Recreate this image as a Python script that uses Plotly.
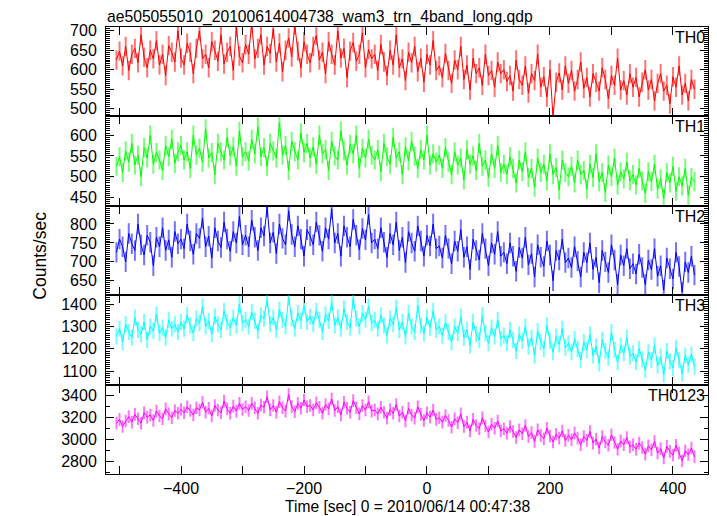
import plotly.graph_objects as go
from plotly.subplots import make_subplots

# time bins (sec), 5 s spacing
t_start = -505
t_step = 5

th0 = [625, 648, 610, 660, 598, 640, 655, 618, 690, 632, 605, 650, 628, 675, 612, 640, 585, 662, 645, 620, 700,
       630, 612, 668, 645, 590, 655, 700, 628, 640, 605, 672, 650, 622, 690, 615, 645, 660, 598, 710, 635, 618,
       665, 640, 720, 628, 655, 690, 612, 660, 642, 705, 620, 668, 595, 650, 682, 633, 715, 648, 605, 672, 640,
       618, 660, 688, 625, 645, 590, 672, 640, 612, 700, 630, 655, 580, 648, 670, 622, 640, 695, 605, 652, 628,
       640, 598, 665, 620, 585, 650, 612, 690, 605, 628, 572, 645, 618, 660, 595, 630, 568, 640, 612, 675, 598,
       610, 580, 642, 598, 565, 625, 600, 660, 575, 612, 548, 630, 590, 605, 560, 640, 585, 598, 555, 620, 590,
       600, 570, 585, 545, 625, 575, 560, 610, 540, 590, 572, 640, 555, 582, 530, 600, 478, 568, 592, 548, 610,
       565, 598, 545, 575, 620, 552, 580, 530, 590, 568, 545, 605, 575, 525, 585, 560, 630, 548, 572, 535, 590,
       555, 580, 530, 568, 600, 548, 575, 520, 565, 590, 545, 560, 512, 582, 555, 610, 535, 565, 520, 575, 550]

th1 = [525, 548, 510, 562, 535, 580, 528, 552, 500, 570, 545, 600, 530, 558, 540, 515, 575, 548, 590, 532, 560,
       575, 540, 560, 520, 600, 552, 568, 535, 615, 545, 558, 505, 580, 560, 540, 595, 550, 572, 525, 610, 548,
       560, 538, 590, 555, 620, 548, 570, 525, 580, 562, 545, 630, 552, 575, 515, 585, 560, 540, 605, 558, 580,
       545, 572, 530, 600, 555, 565, 515, 585, 550, 540, 610, 562, 528, 578, 555, 600, 520, 568, 545, 590, 552,
       540, 565, 512, 580, 548, 530, 595, 545, 560, 505, 572, 538, 585, 550, 520, 565, 540, 600, 528, 555, 535,
       552, 520, 570, 535, 505, 560, 528, 545, 492, 565, 530, 550, 515, 580, 525, 540, 498, 555, 520, 575, 510,
       530, 505, 548, 520, 485, 540, 512, 560, 498, 520, 475, 545, 510, 530, 490, 555, 505, 522, 468, 540, 510,
       500, 525, 485, 540, 505, 515, 470, 530, 498, 555, 488, 510, 462, 528, 500, 545, 480, 512, 495, 535, 490,
       505, 480, 520, 490, 460, 512, 488, 530, 470, 495, 448, 510, 485, 525, 465, 500, 478, 520, 455, 498, 488]

th2 = [725, 760, 740, 700, 775, 748, 730, 800, 745, 718, 770, 752, 690, 765, 740, 790, 730, 758, 712, 780, 748,
       760, 735, 800, 755, 720, 775, 762, 815, 740, 768, 710, 790, 755, 738, 805, 760, 728, 780, 750, 820, 745,
       770, 740, 810, 765, 730, 790, 768, 845, 750, 778, 722, 800, 762, 745, 835, 772, 740, 795, 760, 715, 785,
       768, 745, 805, 770, 728, 790, 760, 840, 750, 775, 715, 795, 765, 740, 812, 770, 732, 788, 758, 825, 750,
       760, 735, 790, 752, 712, 775, 745, 805, 730, 765, 698, 780, 750, 728, 795, 755, 715, 770, 742, 800, 735,
       742, 710, 770, 735, 695, 755, 728, 785, 712, 740, 680, 760, 730, 705, 775, 735, 690, 750, 720, 780, 715,
       725, 695, 750, 715, 675, 738, 710, 765, 692, 722, 660, 745, 712, 688, 755, 718, 650, 730, 705, 760, 698,
       710, 685, 740, 702, 660, 725, 698, 750, 680, 712, 645, 730, 700, 672, 745, 705, 640, 718, 690, 735, 682,
       695, 668, 720, 685, 640, 705, 680, 735, 662, 690, 625, 710, 682, 655, 725, 688, 620, 700, 672, 715, 665]

th3 = [1255, 1290, 1230, 1310, 1275, 1250, 1340, 1285, 1265, 1320, 1240, 1300, 1280, 1355, 1270, 1295, 1250, 1330, 1290, 1310, 1275,
       1320, 1290, 1350, 1305, 1270, 1335, 1315, 1390, 1300, 1325, 1265, 1345, 1310, 1285, 1370, 1320, 1295, 1340, 1305, 1400, 1315,
       1330, 1300, 1365, 1325, 1280, 1350, 1335, 1420, 1310, 1340, 1285, 1375, 1330, 1300, 1430, 1335, 1290, 1360, 1325, 1395, 1320,
       1345, 1310, 1370, 1330, 1275, 1355, 1325, 1410, 1305, 1340, 1290, 1380, 1320, 1295, 1425, 1335, 1300, 1360, 1330, 1390, 1315,
       1330, 1290, 1350, 1305, 1260, 1335, 1310, 1385, 1285, 1320, 1255, 1360, 1300, 1275, 1395, 1305, 1270, 1340, 1295, 1370, 1285,
       1300, 1260, 1320, 1275, 1230, 1300, 1270, 1345, 1250, 1285, 1215, 1320, 1265, 1240, 1350, 1270, 1225, 1295, 1255, 1330, 1245,
       1260, 1225, 1285, 1240, 1190, 1265, 1235, 1300, 1210, 1250, 1170, 1280, 1230, 1200, 1305, 1235, 1185, 1255, 1220, 1290, 1205,
       1225, 1185, 1245, 1200, 1150, 1230, 1195, 1265, 1170, 1210, 1135, 1240, 1190, 1160, 1275, 1195, 1140, 1215, 1180, 1250, 1165,
       1180, 1140, 1200, 1155, 1105, 1185, 1150, 1215, 1125, 1165, 1085, 1190, 1145, 1115, 1205, 1150, 1090, 1170, 1130, 1175, 1120]

th0123 = [3150, 3185, 3120, 3170, 3210, 3160, 3230, 3190, 3150, 3245, 3205, 3225, 3175, 3260, 3215, 3190, 3280, 3235, 3200, 3265, 3240,
          3275, 3245, 3300, 3265, 3225, 3290, 3270, 3340, 3250, 3285, 3215, 3310, 3270, 3245, 3350, 3280, 3240, 3305, 3260, 3330, 3275,
          3300, 3265, 3330, 3290, 3240, 3315, 3295, 3390, 3270, 3310, 3250, 3345, 3290, 3260, 3410, 3300, 3255, 3330, 3285, 3360, 3300,
          3310, 3270, 3335, 3295, 3240, 3320, 3280, 3370, 3265, 3300, 3225, 3340, 3285, 3250, 3355, 3290, 3235, 3310, 3270, 3345, 3260,
          3270, 3235, 3295, 3250, 3195, 3275, 3240, 3320, 3215, 3250, 3170, 3285, 3225, 3195, 3300, 3230, 3175, 3245, 3205, 3270, 3185,
          3200, 3160, 3220, 3175, 3115, 3190, 3155, 3235, 3120, 3160, 3080, 3185, 3130, 3100, 3200, 3125, 3070, 3140, 3105, 3170, 3080,
          3100, 3060, 3120, 3075, 3020, 3090, 3055, 3130, 3030, 3065, 2985, 3090, 3040, 3010, 3105, 3035, 2980, 3050, 3015, 3080, 2995,
          3040, 3000, 3060, 3015, 2955, 3030, 2995, 3075, 2970, 3005, 2925, 3030, 2980, 2950, 3045, 2975, 2915, 2990, 2955, 3020, 2935,
          2955, 2915, 2970, 2930, 2870, 2945, 2910, 2985, 2880, 2920, 2835, 2940, 2895, 2860, 2950, 2880, 2810, 2900, 2865, 2925, 2845]

# typical 1-sigma error bar half-length, per band
errors = [25, 23, 27, 36, 57]

series = [th0, th1, th2, th3, th0123]
names = ["TH0", "TH1", "TH2", "TH3", "TH0123"]
colors = ["#ff0000", "#00ff00", "#0000ff", "#00ffff", "#ff00ff"]
err_colors = ["rgba(255,0,0,0.55)", "rgba(0,255,0,0.55)", "rgba(0,0,255,0.55)",
              "rgba(0,255,255,0.55)", "rgba(255,0,255,0.55)"]
y_ranges = [[480, 710], [430, 645], [612, 848], [1040, 1440], [2690, 3500]]
y_dticks = [50, 50, 50, 100, 200]
y_minor = [5, 5, 5, 10, 100]

x_ticks = [-500, -400, -300, -200, -100, 0, 100, 200, 300, 400]
x_ticktext = ["", "\u2212400", "", "\u2212200", "", "0", "", "200", "", "400"]

time = [t_start + t_step * i for i in range(len(th0))]

fig = make_subplots(rows=5, cols=1, shared_xaxes=True, vertical_spacing=0)

font_fam = "Liberation Sans, Arial, sans-serif"

for i, (vals, nm, col) in enumerate(zip(series, names, colors)):
    r = i + 1
    fig.add_trace(go.Scatter(x=time, y=vals, mode="lines", line=dict(color=col, width=1),
                             error_y=dict(type="constant", value=errors[i], color=err_colors[i],
                                          thickness=2, width=0),
                             name=nm, showlegend=False), row=r, col=1)
    fig.update_yaxes(range=y_ranges[i], dtick=y_dticks[i], tick0=0, ticks="inside", ticklen=8,
                     tickwidth=1, tickcolor="black", showline=True, linecolor="black", linewidth=1,
                     mirror="allticks", showgrid=False, zeroline=False, ticklabelstandoff=5,
                     minor=dict(ticks="inside", ticklen=4, dtick=y_minor[i], tick0=0, tickcolor="black"),
                     tickfont=dict(size=16, color="black", family=font_fam), row=r, col=1)
    fig.update_xaxes(range=[-522, 457], tickvals=x_ticks, ticktext=x_ticktext, ticks="inside",
                     ticklen=8, tickcolor="black", showline=True, linecolor="black", linewidth=1,
                     mirror="allticks", showgrid=False, zeroline=False,
                     showticklabels=(r == 5),
                     tickfont=dict(size=16, color="black", family=font_fam), row=r, col=1)
    yref = "y domain" if r == 1 else f"y{r} domain"
    fig.add_annotation(text=nm, x=1.0, y=1.0, xref="x domain", yref=yref, xanchor="right",
                       yanchor="top", showarrow=False, font=dict(size=16, color="black", family=font_fam),
                       xshift=-1, yshift=0)

fig.add_annotation(text="Counts/sec", x=-0.11, y=0.488, xref="paper", yref="paper", showarrow=False,
                   textangle=-90, xanchor="center", font=dict(size=17.5, color="black", family=font_fam))
fig.add_annotation(text="Time [sec] 0 = 2010/06/14 00:47:38", x=0.5, y=-0.072, xref="paper",
                   yref="paper", showarrow=False, yanchor="middle",
                   font=dict(size=15.6, color="black", family=font_fam))
fig.add_annotation(text="ae505055010_20100614004738_wam3_trn_4band_long.qdp", x=0.0, y=1.0,
                   xref="paper", yref="paper", xanchor="left", yanchor="bottom", showarrow=False,
                   font=dict(size=15.7, color="black", family=font_fam), yshift=-1, xshift=-1)

fig.update_layout(width=717, height=516, margin=dict(l=106, r=9, t=27, b=42),
                  paper_bgcolor="white", plot_bgcolor="white")

fig.write_html("out.html", config={"displayModeBar": False},
               post_script="document.body.style.margin='0';document.body.style.overflow='hidden';")
